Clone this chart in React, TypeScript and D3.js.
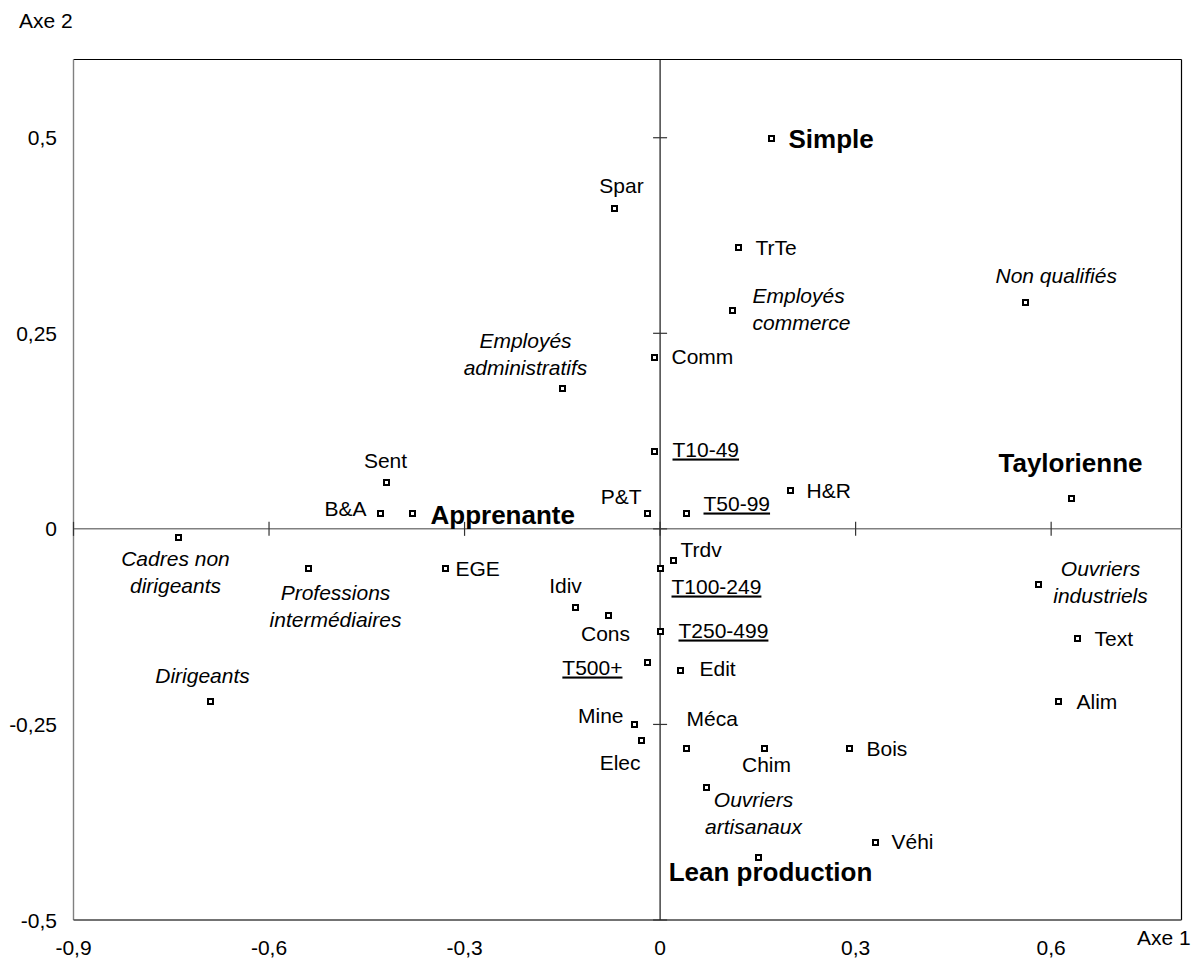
import React from "react";
import * as d3 from "d3";

// Types d'organisation du travail (gras)
const organisations = [
	{ name: "Simple", x: 0.17, y: 0.5 },
	{ name: "Taylorienne", x: 0.63, y: 0.04 },
	{ name: "Apprenante", x: -0.38, y: 0.02 },
	{ name: "Lean production", x: 0.15, y: -0.42 },
];

// Catégories socioprofessionnelles (italique)
const professions = [
	{ name: "Employés\ncommerce", x: 0.11, y: 0.28 },
	{ name: "Non qualifiés", x: 0.56, y: 0.29 },
	{ name: "Employés\nadministratifs", x: -0.15, y: 0.18 },
	{ name: "Cadres non\ndirigeants", x: -0.74, y: -0.01 },
	{ name: "Professions\nintermédiaires", x: -0.54, y: -0.05 },
	{ name: "Ouvriers\nindustriels", x: 0.58, y: -0.07 },
	{ name: "Dirigeants", x: -0.69, y: -0.22 },
	{ name: "Ouvriers\nartisanaux", x: 0.07, y: -0.33 },
];

// Tailles d'établissement (souligné)
const tailles = [
	{ name: "T10-49", x: -0.01, y: 0.1 },
	{ name: "T50-99", x: 0.04, y: 0.02 },
	{ name: "T100-249", x: 0, y: -0.05 },
	{ name: "T250-499", x: 0, y: -0.13 },
	{ name: "T500+", x: -0.02, y: -0.17 },
];

// Secteurs
const secteurs = [
	{ name: "Spar", x: -0.07, y: 0.41 },
	{ name: "TrTe", x: 0.12, y: 0.36 },
	{ name: "Comm", x: -0.01, y: 0.22 },
	{ name: "H&R", x: 0.2, y: 0.05 },
	{ name: "P&T", x: -0.02, y: 0.02 },
	{ name: "Trdv", x: 0.02, y: -0.04 },
	{ name: "Idiv", x: -0.13, y: -0.1 },
	{ name: "Cons", x: -0.08, y: -0.11 },
	{ name: "Sent", x: -0.42, y: 0.06 },
	{ name: "B&A", x: -0.43, y: 0.02 },
	{ name: "EGE", x: -0.33, y: -0.05 },
	{ name: "Text", x: 0.64, y: -0.14 },
	{ name: "Alim", x: 0.61, y: -0.22 },
	{ name: "Edit", x: 0.03, y: -0.18 },
	{ name: "Mine", x: -0.04, y: -0.25 },
	{ name: "Elec", x: -0.03, y: -0.27 },
	{ name: "Méca", x: 0.04, y: -0.28 },
	{ name: "Chim", x: 0.16, y: -0.28 },
	{ name: "Bois", x: 0.29, y: -0.28 },
	{ name: "Véhi", x: 0.33, y: -0.4 },
];

const xTicks = [-0.9, -0.6, -0.3, 0, 0.3, 0.6];
const yTicks = [-0.5, -0.25, 0, 0.25, 0.5];

// label placement relative to the marker: [dx, dy, anchor]
const labelPos: Record<string, [number, number, string]> = {
	Simple: [17, 9, "start"],
	Taylorienne: [-1, -27, "middle"],
	Apprenante: [18, 10, "start"],
	"Lean production": [12, 23, "middle"],
	"Employés\ncommerce": [20, -8, "start"],
	"Non qualifiés": [-30, -20, "start"],
	"Employés\nadministratifs": [-37, -41, "middle"],
	"Cadres non\ndirigeants": [-3, 28, "middle"],
	"Professions\nintermédiaires": [27, 31, "middle"],
	"Ouvriers\nindustriels": [62, -9, "middle"],
	Dirigeants: [-8, -19, "middle"],
	"Ouvriers\nartisanaux": [47, 19, "middle"],
	"T10-49": [18, 5, "start"],
	"T50-99": [17, -3, "start"],
	"T100-249": [11, 25, "start"],
	"T250-499": [18, 6, "start"],
	"T500+": [-25, 12, "end"],
	Spar: [7, -16, "middle"],
	TrTe: [17, 7, "start"],
	Comm: [17, 6, "start"],
	"H&R": [16, 7, "start"],
	"P&T": [-6, -10, "end"],
	Trdv: [7, -4, "start"],
	Idiv: [-10, -15, "middle"],
	Cons: [-3, 25, "middle"],
	Sent: [-1, -15, "middle"],
	"B&A": [-14, 2, "end"],
	EGE: [10, 7, "start"],
	Text: [17, 7, "start"],
	Alim: [18, 7, "start"],
	Edit: [19, 5, "start"],
	Mine: [-11, -2, "end"],
	Elec: [-1, 29, "end"],
	Méca: [0, -23, "start"],
	Chim: [2, 23, "middle"],
	Bois: [17, 7, "start"],
	Véhi: [16, 6, "start"],
};

const W = 1199;
const H = 960;
const FONT = "'Liberation Sans', Arial, sans-serif";
const LINE = 27;

const x = d3.scaleLinear().domain([-0.9, 0.8]).range([73.5, 1181.5]);
const y = d3.scaleLinear().domain([-0.5, 0.6]).range([920, 59.5]);
const fmt = (v: number) => String(v).replace(".", ",");

type Pt = { name: string; x: number; y: number };

const Group = ({ data, style }: { data: Pt[]; style: React.CSSProperties }) => (
	<g>
		{data.map((d) => {
			const cx = Math.round(x(d.x)) + 0.5;
			const cy = Math.round(y(d.y)) + 0.5;
			const [dx, dy, anchor] = labelPos[d.name];
			const lines = d.name.split("\n");
			return (
				<g key={d.name}>
					<rect x={cx - 2.5} y={cy - 2.5} width={5} height={5} fill="#fff" stroke="#000" strokeWidth={2} />
					<text x={cx + dx} y={cy + dy} textAnchor={anchor} style={style}>
						{lines.map((l, i) => (
							<tspan key={i} x={cx + dx} dy={i === 0 ? 0 : LINE}>
								{l}
							</tspan>
						))}
					</text>
				</g>
			);
		})}
	</g>
);

export default function App() {
	const x0 = x(0);
	const y0 = y(0);
	const [l, r] = x.range();
	const [b, t] = y.range();

	return (
		<svg width={W} height={H} style={{ position: "absolute", left: 0, top: 0, background: "#fff" }} fontFamily={FONT} fontSize={21}>
			{/* frame */}
			<line x1={l} x2={r} y1={t} y2={t} stroke="#000" strokeWidth={1.2} />
			<line x1={r} x2={r} y1={t} y2={b} stroke="#000" strokeWidth={1.2} />
			<line x1={l} x2={l} y1={t} y2={b} stroke="#808080" strokeWidth={1.4} />
			<line x1={l} x2={r} y1={b} y2={b} stroke="#444" strokeWidth={1.4} />

			{/* zero axes */}
			<line x1={l} x2={r} y1={y0} y2={y0} stroke="#808080" strokeWidth={1.5} />
			<line x1={x0} x2={x0} y1={t} y2={b} stroke="#000" strokeWidth={1.1} />
			{xTicks.map((v) => (
				<line key={"xt" + v} x1={x(v)} x2={x(v)} y1={y0 - 7} y2={y0 + 7} stroke="#333" strokeWidth={1.2} />
			))}
			{yTicks.map((v) => (
				<line key={"yt" + v} x1={x0 - 7} x2={x0 + 7} y1={y(v)} y2={y(v)} stroke="#333" strokeWidth={1.2} />
			))}

			{/* tick labels */}
			{xTicks.map((v) => (
				<text key={"xl" + v} x={x(v)} y={955} textAnchor="middle">
					{fmt(v)}
				</text>
			))}
			{yTicks.map((v) => (
				<text key={"yl" + v} x={57} y={y(v) + 7.5} textAnchor="end">
					{fmt(v)}
				</text>
			))}
			<text x={19} y={28}>Axe 2</text>
			<text x={1137} y={945}>Axe 1</text>

			<Group data={secteurs} style={{}} />
			<Group data={tailles} style={{ textDecoration: "underline" }} />
			<Group data={professions} style={{ fontStyle: "italic" }} />
			<Group data={organisations} style={{ fontWeight: "bold", fontSize: 26 }} />
		</svg>
	);
}
